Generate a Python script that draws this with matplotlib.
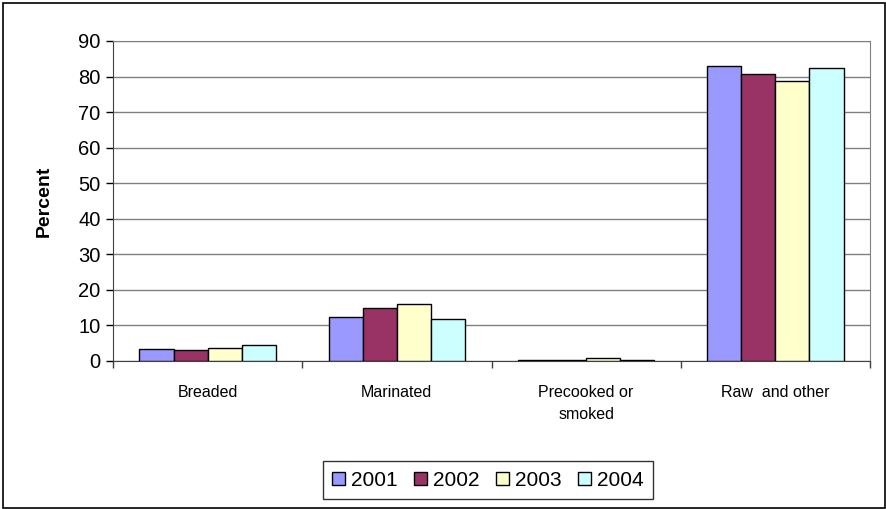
import matplotlib.pyplot as plt
import numpy as np
from matplotlib.patches import Rectangle

plt.rcParams["font.family"] = ["Liberation Sans", "DejaVu Sans"]

categories = ["Breaded", "Marinated", "Precooked or\nsmoked", "Raw  and other"]
years = ["2001", "2002", "2003", "2004"]
pct_2001 = [3.5, 12.4, 0.3, 83.1]
pct_2002 = [3.0, 15.0, 0.3, 80.8]
pct_2003 = [3.6, 16.1, 0.8, 78.7]
pct_2004 = [4.6, 11.9, 0.3, 82.4]
colors = ["#9999FF", "#993366", "#FFFFCC", "#CCFFFF"]

series = [pct_2001, pct_2002, pct_2003, pct_2004]

fig = plt.figure(figsize=(8.87, 5.09), dpi=100)
ax = fig.add_axes([113 / 887, 1 - 361 / 509, (870 - 113) / 887, (361 - 41) / 509])

x = np.arange(len(categories))
width = 0.18
for i, (vals, year, col) in enumerate(zip(series, years, colors)):
    ax.bar(x + (i - 1.5) * width, vals, width, color=col, edgecolor="black",
           linewidth=1.0, label=year, zorder=3)

ax.set_xlim(-0.5, len(categories) - 0.5)
ax.set_ylim(0, 90)
ax.set_yticks(range(0, 91, 10))
ax.tick_params(axis="y", labelsize=14.5, length=5, width=1, direction="out", pad=4)
ax.set_xticks(x)
ax.set_xticklabels(categories, fontsize=11.5, linespacing=1.6)
ax.tick_params(axis="x", length=0, pad=17)
# category separator ticks
ax.set_xticks(np.arange(-0.5, len(categories), 1), minor=True)
ax.tick_params(axis="x", which="minor", length=5, width=1, color="#404040")

ax.grid(axis="y", color="#808080", linewidth=1, zorder=0)
ax.spines["left"].set_color("#404040")
ax.spines["bottom"].set_color("#404040")
ax.spines["top"].set_color("#808080")
ax.spines["right"].set_color("#808080")

ax.set_ylabel("Percent", fontsize=14, fontweight="bold", labelpad=18)

leg = fig.legend(loc="center", bbox_to_anchor=(488 / 887, 1 - 480 / 509), ncol=4,
                 fontsize=15, frameon=True, fancybox=False, edgecolor="black",
                 handlelength=0.6, handleheight=0.6, handletextpad=0.3,
                 columnspacing=0.8, borderpad=0.45)
leg.get_frame().set_linewidth(1.0)

# chart area border
fig.patches.append(Rectangle((3 / 887, 1 - 508 / 509), 882 / 887, 505 / 509,
                             transform=fig.transFigure, fill=False,
                             edgecolor="black", linewidth=1.2))

fig.savefig("out.png", dpi=100)
